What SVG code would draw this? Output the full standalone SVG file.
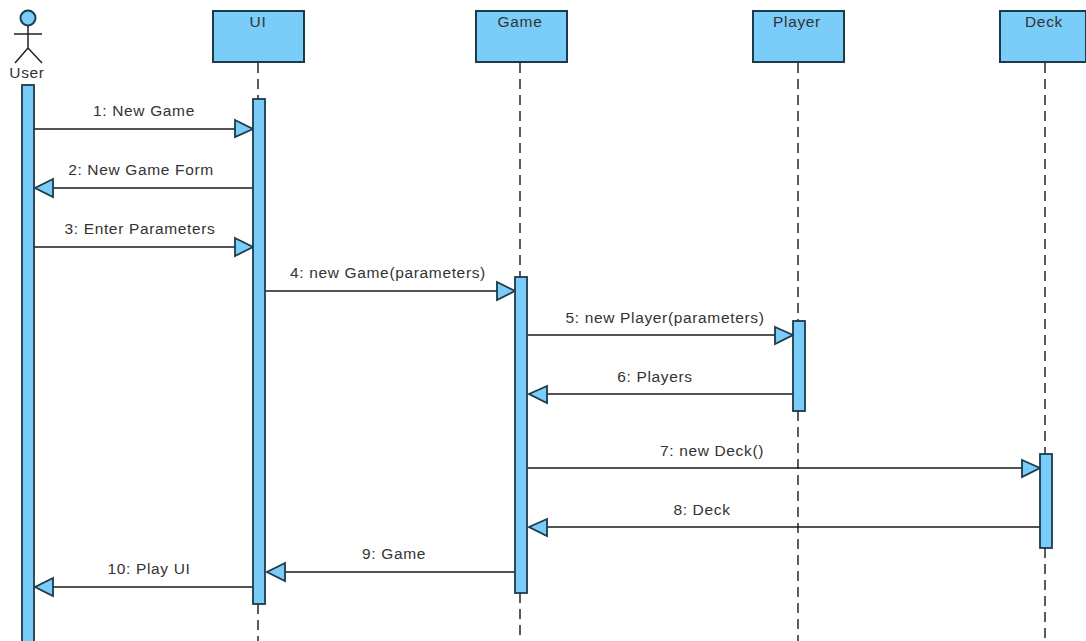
<svg xmlns="http://www.w3.org/2000/svg" width="1086" height="641" viewBox="0 0 1086 641">
<style>
.box{fill:#7acdf8;stroke:#1d3a4a;stroke-width:2}
.bar{fill:#7acdf8;stroke:#1d3a4a;stroke-width:1.8}
.life{fill:none;stroke:#333;stroke-width:1.6;stroke-dasharray:10 6}
.msg{fill:none;stroke:#1a1a1a;stroke-width:1.6}
.head{fill:#7acdf8;stroke:#1d3a4a;stroke-width:1.8;stroke-linejoin:miter}
.stick{fill:none;stroke:#222;stroke-width:1.5}
text{font-family:"Liberation Sans",Arial,sans-serif;font-size:15.5px;letter-spacing:.65px;fill:#333;text-anchor:middle}
</style>
<rect width="1086" height="641" fill="#fff"/>
<g id="connectors">
<path class="life" d="M258 63V99M258 604V641"/>
<path class="life" d="M520 63V277M520 593V641"/>
<path class="life" d="M798 63V321M798 411V641"/>
<path class="life" d="M1045 63V454M1045 548V641"/>
<g id="m1"><path class="msg" d="M34 129H236"/><path class="head" d="M235 120L253 129L235 137Z"/><text x="144" y="116">1: New Game</text></g>
<g id="m2"><path class="msg" d="M253 188H52"/><path class="head" d="M53 179L35 188L53 197Z"/><text x="141" y="175">2: New Game Form</text></g>
<g id="m3"><path class="msg" d="M34 247H236"/><path class="head" d="M235 238L253 247L235 256Z"/><text x="140" y="234">3: Enter Parameters</text></g>
<g id="m4"><path class="msg" d="M266 291H498"/><path class="head" d="M497 282L515 291L497 300Z"/><text x="388" y="278">4: new Game(parameters)</text></g>
<g id="m5"><path class="msg" d="M528 335H776"/><path class="head" d="M775 327L793 335L775 344Z"/><text x="665" y="323">5: new Player(parameters)</text></g>
<g id="m6"><path class="msg" d="M793 394H546"/><path class="head" d="M547 386L529 394L547 403Z"/><text x="655" y="382">6: Players</text></g>
<g id="m7"><path class="msg" d="M528 468H1023"/><path class="head" d="M1022 460L1040 468L1022 477Z"/><text x="712" y="456">7: new Deck()</text></g>
<g id="m8"><path class="msg" d="M1040 527H546"/><path class="head" d="M547 519L529 527L547 536Z"/><text x="702" y="515">8: Deck</text></g>
<g id="m9"><path class="msg" d="M515 572H284"/><path class="head" d="M285 563L267 572L285 581Z"/><text x="394" y="559">9: Game</text></g>
<g id="m10"><path class="msg" d="M253 587H52"/><path class="head" d="M53 578L35 587L53 596Z"/><text x="149" y="574">10: Play UI</text></g>
</g>
<g id="user">
<circle class="box" cx="28" cy="18" r="7.5"/>
<path class="stick" d="M28 26V48M14 34H42M28 48L15 63M28 48L42 63"/>
<text x="27" y="78">User</text>
<rect class="bar" x="22" y="85" width="12" height="560"/>
</g>
<g id="ui">
<rect class="box" x="213" y="11" width="91" height="51"/>
<text x="258" y="27">UI</text>
<rect class="bar" x="253" y="99" width="12" height="505"/>
</g>
<g id="game">
<rect class="box" x="476" y="11" width="91" height="51"/>
<text x="520" y="27">Game</text>
<rect class="bar" x="515" y="277" width="12" height="316"/>
</g>
<g id="player">
<rect class="box" x="753" y="11" width="91" height="51"/>
<text x="797" y="27">Player</text>
<rect class="bar" x="793" y="321" width="12" height="90"/>
</g>
<g id="deck">
<rect class="box" x="1000" y="11" width="86" height="51"/>
<text x="1044" y="27">Deck</text>
<rect class="bar" x="1040" y="454" width="12" height="94"/>
</g>
</svg>
